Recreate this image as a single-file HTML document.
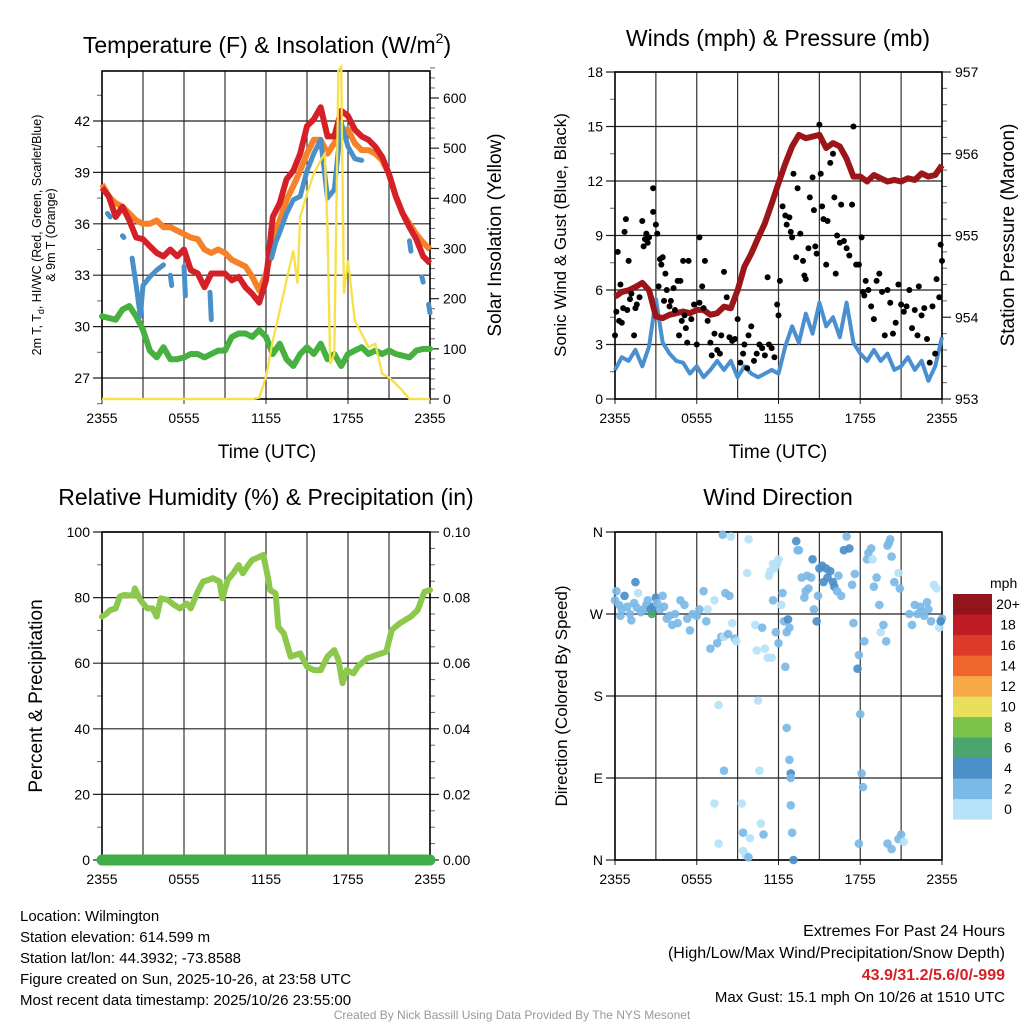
<!DOCTYPE html>
<html><head><meta charset="utf-8"><style>
html,body{margin:0;padding:0;background:#fff;}
svg{display:block;font-family:"Liberation Sans",Arial,sans-serif;}
</style></head><body>
<svg id="chart" xmlns="http://www.w3.org/2000/svg" width="1024" height="1024" viewBox="0 0 1024 1024">
<rect x="0" y="0" width="1024" height="1024" fill="#fff"/>
<text x="267" y="53" font-size="23" text-anchor="middle">Temperature (F) &amp; Insolation (W/m<tspan font-size="14" dy="-10">2</tspan><tspan dy="10">)</tspan></text>
<text x="778" y="46" font-size="23" text-anchor="middle">Winds (mph) &amp; Pressure (mb)</text>
<text x="266" y="505" font-size="23" text-anchor="middle">Relative Humidity (%) &amp; Precipitation (in)</text>
<text x="778" y="505" font-size="23" text-anchor="middle">Wind Direction</text>
<text x="267" y="458" font-size="19" text-anchor="middle">Time (UTC)</text>
<text x="778" y="458" font-size="19" text-anchor="middle">Time (UTC)</text>
<text transform="translate(41,235) rotate(-90)" font-size="12.5" text-anchor="middle">2m T, T<tspan font-size="9" dy="3">d</tspan><tspan dy="-3">, HI/WC (Red, Green, Scarlet/Blue)</tspan></text>
<text transform="translate(55,235) rotate(-90)" font-size="12.5" text-anchor="middle">&amp; 9m T (Orange)</text>
<text transform="translate(501,235) rotate(-90)" font-size="19" text-anchor="middle">Solar Insolation (Yellow)</text>
<text transform="translate(566,235) rotate(-90)" font-size="17" text-anchor="middle">Sonic Wind &amp; Gust (Blue, Black)</text>
<text transform="translate(1014,235) rotate(-90)" font-size="19" text-anchor="middle">Station Pressure (Maroon)</text>
<text transform="translate(42,696) rotate(-90)" font-size="19" text-anchor="middle">Percent &amp; Precipitation</text>
<text transform="translate(567,696) rotate(-90)" font-size="17" text-anchor="middle">Direction (Colored By Speed)</text>
<g font-size="15">
<text x="20" y="921">Location: Wilmington</text>
<text x="20" y="942">Station elevation: 614.599 m</text>
<text x="20" y="963">Station lat/lon: 44.3932; -73.8588</text>
<text x="20" y="984">Figure created on Sun, 2025-10-26, at 23:58 UTC</text>
<text x="20" y="1005">Most recent data timestamp: 2025/10/26 23:55:00</text>
</g>
<g font-size="16" text-anchor="end">
<text x="1005" y="936">Extremes For Past 24 Hours</text>
<text x="1005" y="958">(High/Low/Max Wind/Precipitation/Snow Depth)</text>
<text x="1005" y="980" fill="#d62027" font-weight="bold">43.9/31.2/5.6/0/-999</text>
<text x="1005" y="1002" font-size="15">Max Gust: 15.1 mph On 10/26 at 1510 UTC</text>
</g>
<text x="512" y="1019" font-size="12" fill="#999" text-anchor="middle">Created By Nick Bassill Using Data Provided By The NYS Mesonet</text>
</svg>
<script>
// ---- Temperature panel data (hours since 2355 UTC, half-hour steps) ----
const tHours = [0,0.5,1,1.5,2,2.5,3,3.5,4,4.5,5,5.5,6,6.5,7,7.5,8,8.5,9,9.5,10,10.5,11,11.5,12,12.5,13,13.5,14,14.5,15,15.5,16,16.5,17,17.5,18,18.5,19,19.5,20,20.5,21,21.5,22,22.5,23,23.5,24];
const tempRed = [38.1,37.6,36.4,37.0,36.2,35.2,35.1,34.7,34.3,34.1,34.5,34.1,34.5,33.3,33.1,32.3,33.1,33.1,33.1,32.7,32.9,32.3,31.9,31.4,32.7,36.4,37.2,38.6,39.1,40.1,41.7,42.1,42.8,41.1,41.1,42.6,42.3,41.5,41.1,40.9,40.5,39.9,38.9,37.6,36.6,35.8,35.1,34.1,33.7];
const temp9m = [38.3,37.6,37.2,37.0,36.6,36.2,36.0,36.0,36.2,35.8,35.8,35.6,35.4,35.2,35.1,34.5,34.3,34.5,34.3,33.9,33.7,33.5,32.9,32.1,33.1,34.7,36.2,37.4,38.2,39.1,40.1,40.9,40.9,40.1,40.7,41.5,41.5,40.7,40.3,40.3,40.1,39.7,38.9,37.6,36.6,36.0,35.4,34.9,34.5];
const tempDew = [28.9,30.6,30.5,30.4,31.0,31.2,30.6,29.8,28.6,28.2,28.8,28.1,28.1,28.2,28.4,28.4,28.2,28.4,28.6,28.6,29.4,29.6,29.6,29.4,29.8,29.4,28.4,29.0,28.1,27.7,28.4,28.8,28.4,29.0,28.1,28.4,27.7,28.4,28.6,28.8,28.4,28.6,28.4,28.6,28.4,28.3,28.2,28.6,28.7].slice(1).concat([28.7]);
const hiwcHours = [0.4,0.6,null,1.5,1.6,null,2.2,2.5,2.8,3.0,3.5,4.0,4.5,null,5.0,5.1,null,6.0,6.1,null,7.9,8.0,null,12.4,12.7,13.0,13.5,14.0,14.5,15.0,15.5,16.0,16.5,17.0,17.5,18.0,18.5,19.0,null,22.5,22.6,null,23.4,23.5,null,23.9,24.0];
const hiwcVals  = [36.6,36.4,null,35.3,35.2,null,34.0,32.4,30.6,32.4,32.9,33.3,33.6,null,33.0,32.4,null,33.5,31.8,null,32.0,30.4,null,34.0,34.9,35.5,36.6,37.4,37.6,39.1,40.1,40.9,37.5,38.0,41.9,40.5,39.8,39.7,null,35.0,34.4,null,32.9,32.6,null,31.3,30.8];
const solarHours = [0,11,11.5,12,12.5,13,13.5,14,14.3,14.5,15,15.5,16,16.3,16.5,16.7,17,17.3,17.5,17.7,18,18.5,19,19.5,20,20.5,21,21.5,22,22.5,24];
const solarVals  = [0,0,3,44,116,176,236,296,230,363,409,449,476,489,336,70,90,655,662,210,276,156,130,103,110,50,43,30,16,0,0];
const tempTicks = [27,30,33,36,39,42];
const solarTicks = [0,100,200,300,400,500,600];
const timeLabels = ["2355","0555","1155","1755","2355"];
// ---- Wind panel data ----
const windSpeed = [1.6,2.3,2.1,2.7,1.8,2.9,5.5,3.1,2.5,2.1,2.0,1.4,1.8,1.2,1.6,2.1,1.6,2.1,1.2,1.8,1.4,1.2,1.4,1.6,1.4,2.9,4.0,3.1,4.7,3.6,5.3,4.0,4.5,3.4,5.3,3.1,2.5,2.1,2.7,2.1,2.5,1.6,1.8,2.3,1.6,2.1,1.0,1.8,3.4];
const pressure = [954.25,954.31,954.33,954.37,954.42,954.33,954.01,953.99,954.03,954.05,954.07,954.05,954.09,954.09,954.03,954.05,954.13,954.11,954.33,954.62,954.78,954.97,955.15,955.39,955.64,955.88,956.09,956.23,956.19,956.21,956.23,956.07,956.13,956.09,955.94,955.72,955.72,955.66,955.74,955.70,955.66,955.68,955.66,955.70,955.68,955.76,955.72,955.74,955.86];
const gustHours = [0,0.1,0.2,0.3,0.4,0.5,0.6,0.7,0.8,0.9,1.0,1.1,1.2,1.4,1.5,1.6,1.8,2.0,2.1,2.2,2.3,2.4,2.5,2.8,2.8,3.0,3.1,3.2,3.3,3.4,3.5,3.6,3.7,3.8,4.0,4.1,4.3,4.4,4.6,4.7,4.8,4.9,5.0,5.1,5.2,5.3,5.4,5.6,5.8,6.0,6.2,6.2,6.4,6.5,6.6,6.8,7.0,7.1,7.3,7.5,7.7,7.8,8.0,8.2,8.4,8.6,8.8,9.0,9.2,9.4,9.5,9.7,9.8,10.0,10.2,10.4,10.6,10.8,11.0,11.2,11.3,11.5,11.7,11.9,12.0,12.1,12.3,12.5,12.6,12.8,12.9,13.0,13.1,13.3,13.4,13.6,13.8,13.9,14.0,14.2,14.3,14.5,14.6,14.7,14.8,15.0,15.1,15.2,15.3,15.5,15.6,15.8,16.0,16.1,16.2,16.3,16.5,16.6,16.8,17.0,17.2,17.4,17.5,17.7,17.9,18.1,18.2,18.3,18.4,18.6,18.8,19.0,19.2,19.4,19.6,19.8,20.0,20.2,20.4,20.6,20.8,21.0,21.2,21.4,21.6,21.8,22.0,22.2,22.3,22.5,22.7,22.9,23.1,23.3,23.5,23.6,23.8,23.9,24.0];
const gustVals  = [3.5,4.8,8.1,4.3,6.3,4.2,5.0,9.2,9.9,4.9,7.6,5.5,5.8,3.5,5.0,5.2,5.6,9.8,8.4,8.8,9.1,8.6,8.9,11.6,10.3,9.6,9.1,6.2,7.7,7.4,7.8,5.4,6.9,6.0,5.1,5.4,6.1,4.9,6.5,3.5,6.5,4.3,7.6,4.6,3.9,3.1,7.6,4.4,5.2,3.0,5.3,8.9,6.2,5.0,7.6,4.3,3.1,2.4,3.6,2.7,2.5,3.5,7.0,5.6,3.4,3.2,3.3,4.4,2.0,2.5,3.0,1.7,3.5,4.0,2.1,2.5,3.0,2.8,2.4,6.7,3.0,2.8,2.3,5.2,4.6,6.5,10.6,10.1,9.6,10.0,9.2,8.9,12.4,7.8,11.6,9.1,7.6,6.8,6.6,8.3,11.1,12.2,10.4,8.4,8.0,15.1,12.4,10.6,9.9,7.4,9.8,13.0,13.5,11.1,6.9,9.0,8.6,10.7,8.7,8.3,7.9,10.7,15.0,7.4,7.4,8.9,5.9,5.7,6.5,6.0,5.1,4.4,6.5,6.9,5.9,3.5,6.0,5.3,3.6,4.2,6.3,5.2,4.8,5.1,6.0,3.9,4.9,3.5,6.2,4.6,5.0,3.3,2.0,5.1,2.5,6.6,5.6,8.5,7.6];
const windTicks = [0,3,6,9,12,15,18];
const pressTicks = [953,954,955,956,957];
// ---- Humidity panel data ----
const rhHours = [0,0.3,0.6,1.0,1.3,1.6,2.3,2.4,2.8,3.3,3.7,4.0,4.3,4.8,5.3,5.7,6.2,6.5,7.0,7.4,7.8,8.1,8.6,8.8,9.2,9.6,10.0,10.3,10.7,11.0,11.3,11.8,12.15,12.3,12.7,12.9,13.3,13.8,14.5,15.0,15.5,16.0,16.5,17.0,17.3,17.6,17.9,18.4,18.7,19.4,20.1,20.8,21.2,21.8,22.6,23.1,23.6,24];
const rhVals  = [74.2,75.0,76.2,76.7,80.3,80.8,80.6,82.8,79.3,76.7,76.7,74.2,79.8,79.3,77.7,76.7,78.2,76.7,81.8,84.9,85.4,85.9,84.9,79.8,85.4,87.4,89.9,87.4,89.9,91.5,92.0,93.0,85.9,82.3,81.3,71.1,69.1,62.0,63.0,58.9,57.9,57.9,62.0,64.0,61.0,53.9,57.9,56.9,58.9,61.5,62.5,63.5,70.1,72.2,74.2,76.2,81.8,82.3];
const precipHours = [0,24];
const precipVals = [0,0];
const rhTicks = [0,20,40,60,80,100];
const precipTicks = ["0.00","0.02","0.04","0.06","0.08","0.10"];
// ---- Wind direction panel data ----
const dirHours = [0,0.1,0.3,0.4,0.5,0.7,0.9,1.1,1.2,1.4,1.6,1.5,1.7,1.9,2.1,2.3,2.4,2.6,2.7,2.8,3.0,3.1,3.3,3.5,3.6,3.8,4.0,4.2,4.4,4.6,4.8,5.1,5.3,5.5,5.7,6.0,6.2,6.5,6.7,6.8,7.0,7.3,7.5,7.8,7.9,8.0,8.1,8.3,8.4,8.5,8.6,8.8,8.9,7.6,8.0,7.3,7.6,9.3,9.4,9.4,9.6,9.8,9.9,9.7,9.8,10.3,10.5,10.6,10.7,10.9,10.4,10.8,11.0,11.2,11.5,11.6,11.4,11.7,11.9,12.0,11.3,11.6,11.8,12.0,12.2,12.3,12.4,12.6,12.5,12.7,12.8,12.6,12.8,12.9,12.9,12.9,13.0,13.1,13.3,13.4,13.5,13.7,13.9,14.0,14.1,14.2,14.4,14.5,14.6,14.8,14.9,15.0,15.2,15.3,15.5,15.6,15.8,16.0,16.1,16.3,16.4,16.6,16.8,17.0,17.2,17.4,17.5,17.6,17.8,17.9,18.0,18.1,18.2,17.9,18.3,18.5,18.6,18.8,18.9,19.0,19.2,19.4,19.5,19.7,19.9,20.0,20.1,20.2,20.3,20.5,20.8,20.9,20.0,20.3,20.8,21.0,21.2,21.6,21.8,22.0,22.2,22.5,22.7,23.0,23.2,23.4,23.6,23.8,24.0,23.9,22.4,22.9];
const dirVals  = [285,295,280,268,275,290,278,270,263,282,277,305,293,272,275,280,285,275,270,278,288,282,275,290,278,265,268,258,270,260,285,280,265,252,270,268,275,295,262,275,232,285,238,245,357,245,293,248,290,355,260,243,240,170,98,62,18,62,10,30,5,3,24,315,352,258,175,98,40,28,230,255,232,222,222,325,317,320,325,330,312,285,250,238,280,293,262,250,212,264,255,145,110,95,60,90,30,0,350,340,340,310,288,295,312,298,310,330,275,262,290,320,323,305,320,310,317,305,300,295,312,290,340,355,342,302,260,314,210,225,160,95,80,18,240,330,337,342,330,300,310,280,250,258,240,345,348,352,333,305,315,298,18,12,23,28,20,270,258,280,270,272,268,275,262,302,298,255,265,262,278,283];
const dirSpeeds = [2.5,3,3.5,3,2.5,4.5,3,3,3,2.5,3,4.5,1.5,3.5,3,3,2.5,4.5,6,4,4.5,3,3,3,3.5,3,3,3,3,3,3,3,3,3,3,3.5,3,3,3,1.5,3,1.5,3,3,3,1.5,3,3,3,1.5,1.5,3,1.5,1.5,3,1.5,1.5,1.5,1.5,3,1.5,3,1.5,1.5,1.5,1.5,1.5,1.5,1.5,3,1.5,3,1.5,1.5,1.5,1.5,1.5,1.5,1.5,1.5,1.5,3,3,3,1.5,3,3,3,3,4,3,3,3,4.5,3,3,3,4.5,4.5,3,3,3,3,3,3,3,3,4,3,4.5,3,4.5,4.5,4.5,4.5,4.5,4.5,4.5,4.5,3,3,3,4.5,3,5,3,3,3,4.5,3,3,3,3,3,3,3,3,3,1.5,3,3,3,1.5,3,3,3,3,3,3,3,1.5,3,3,3,3,3,1.5,3,3,3,3,3,3,3,3,1.5,1.5,1.5,3,4.5,3,3];
const dirTicks = [0,90,180,270,360];
const dirLabels = ["N","E","S","W","N"];
const speedBins = ["0","2","4","6","8","10","12","14","16","18","20+"];
const speedColors = ["#b6e2f8","#7bb9e6","#4a8fc8","#4aa66e","#7bc24a","#e8e05a","#f7a847","#f0652b","#de3a2b","#c01c24","#94141b"];

const NS = "http://www.w3.org/2000/svg";
const svg = document.getElementById("chart");
function el(tag, attrs, parent){ const e=document.createElementNS(NS,tag); for(const k in attrs) e.setAttribute(k,attrs[k]); parent.appendChild(e); return e; }

function panel(name, x0,x1,y0,y1){
  const g = el('g',{},svg);
  
  
  return {g,x0,x1,y0,y1,xf:h=>x0+h*(x1-x0)/24};
}
function lin(d0,d1,p0,p1){ return v=>p0+(v-d0)*(p1-p0)/(d1-d0); }

function frame(P, leftTicks, leftY, leftLabels, rightTicks, rightY, rightLabels, leftMinor, rightMinor){
  const g = el('g',{},P.g);
  
  
  for(let h=3; h<24; h+=3){
    const ln = el('line',{x1:P.xf(h),x2:P.xf(h),y1:P.y0,y2:P.y1,stroke:'#333','stroke-width':1.2},g);
    
    
  }
  leftTicks.forEach((v,i)=>{
    const y=leftY(v);
    const ln = el('line',{x1:P.x0-9,x2:P.x1,y1:y,y2:y,stroke:'#222','stroke-width':1.2},g);
    
    
    const t = el('text',{x:P.x0-12,y:y+5,'font-size':14,'text-anchor':'end'},g);
    t.textContent = leftLabels[i];
    
    
  });
  leftMinor.forEach(v=>{
    const y=leftY(v);
    const ln = el('line',{x1:P.x0-5,x2:P.x0,y1:y,y2:y,stroke:'#666','stroke-width':1},g);
    
    
  });
  rightTicks.forEach((v,i)=>{
    const y=rightY(v);
    const ln = el('line',{x1:P.x1,x2:P.x1+9,y1:y,y2:y,stroke:'#222','stroke-width':1.2},g);
    
    
    if(rightLabels){
      const t = el('text',{x:P.x1+13,y:y+5,'font-size':14},g);
      t.textContent = rightLabels[i];
      
      
    }
  });
  rightMinor.forEach(v=>{
    const y=rightY(v);
    const ln = el('line',{x1:P.x1,x2:P.x1+5,y1:y,y2:y,stroke:'#666','stroke-width':1},g);
    
    
  });
  timeLabels.forEach((s,i)=>{
    const x=P.xf(i*6);
    const tk = el('line',{x1:x,x2:x,y1:P.y1,y2:P.y1+5,stroke:'#222'},g);
    
    
    const t = el('text',{x:x,y:P.y1+24,'font-size':14,'text-anchor':'middle'},g);
    t.textContent = s;
    
    
  });
  const box = el('rect',{x:P.x0,y:P.y0,width:P.x1-P.x0,height:P.y1-P.y0,fill:'none',stroke:'#000','stroke-width':1.6},g);
  
  
}
function pathD(xs, ys, xf, yf){
  let d='', pen=false;
  for(let i=0;i<xs.length;i++){
    if(xs[i]===null||ys[i]===null){pen=false;continue;}
    d += (pen?'L':'M')+xf(xs[i]).toFixed(1)+','+yf(ys[i]).toFixed(1);
    pen=true;
  }
  return d;
}
function range(a,b,s){const r=[];for(let v=a;v<=b+1e-9;v+=s)r.push(+v.toFixed(4));return r;}

// Panel 1
const P1 = panel('temperature-panel',102,430,71,399);
const yT = lin(27,42,378,121), yS = lin(0,600,399,98);
frame(P1, tempTicks, yT, tempTicks.map(String), solarTicks, yS, solarTicks.map(String), range(25.5,43.5,1.5).filter(v=>!tempTicks.includes(v)&&yT(v)>=P1.y0), range(0,660,20).filter(v=>v%100!==0));
const sG = el('path',{d:pathD(solarHours,solarVals,P1.xf,yS),fill:'none',stroke:'#f7e14b','stroke-width':2.2},P1.g);


const dG = el('path',{d:pathD(tHours,tempDew,P1.xf,yT),fill:'none',stroke:'#46b040','stroke-width':6,'stroke-linejoin':'round','stroke-linecap':'round'},P1.g);


const oG = el('path',{d:pathD(tHours,temp9m,P1.xf,yT),fill:'none',stroke:'#f5822a','stroke-width':6,'stroke-linejoin':'round'},P1.g);


const rG = el('path',{d:pathD(tHours,tempRed,P1.xf,yT),fill:'none',stroke:'#d62027','stroke-width':6,'stroke-linejoin':'round'},P1.g);


const bG = el('path',{d:pathD(hiwcHours,hiwcVals,P1.xf,yT),fill:'none',stroke:'#4a90c8','stroke-width':5,'stroke-linecap':'round','stroke-linejoin':'round'},P1.g);


// redraw solar above for visibility of spike
const sG2 = el('path',{d:pathD(solarHours,solarVals,P1.xf,yS),fill:'none',stroke:'#f7e14b','stroke-width':2.2},P1.g);



// Panel 2
const P2 = panel('winds-panel',615,942,72,399);
const yW = lin(0,18,399,72), yP = lin(953,957,399,72);
frame(P2, windTicks, yW, windTicks.map(String), pressTicks, yP, pressTicks.map(String), range(1.5,16.5,3), range(953.2,956.8,0.2).filter(v=>Math.abs(v-Math.round(v))>0.01));
const wG = el('path',{d:pathD(tHours,windSpeed,P2.xf,yW),fill:'none',stroke:'#4a90d0','stroke-width':4,'stroke-linejoin':'round'},P2.g);


const pG = el('path',{d:pathD(tHours,pressure,P2.xf,yP),fill:'none',stroke:'#9b1519','stroke-width':6,'stroke-linejoin':'round'},P2.g);


gustHours.forEach((h,i)=>{
  const c = el('circle',{cx:P2.xf(h),cy:yW(gustVals[i]),r:3,fill:'#000'},P2.g);
  
  
});

// Panel 3
const P3 = panel('humidity-panel',102,430,532,860);
const yR = lin(0,100,860,532), yPr = lin(0,0.1,860,532);
frame(P3, rhTicks, yR, rhTicks.map(String), [0,0.02,0.04,0.06,0.08,0.10], yPr, precipTicks, range(10,90,20), range(0.005,0.095,0.005).filter(v=>Math.abs(v*50-Math.round(v*50))>0.01));
const hG = el('path',{d:pathD(rhHours,rhVals,P3.xf,yR),fill:'none',stroke:'#8cc84b','stroke-width':6,'stroke-linejoin':'round','stroke-linecap':'round'},P3.g);


const prG = el('path',{d:pathD(precipHours,precipVals,P3.xf,yPr),fill:'none',stroke:'#3fae49','stroke-width':11,'stroke-linecap':'round'},P3.g);



// Panel 4
const P4 = panel('wind-direction-panel',615,942,532,860);
const yD = lin(0,360,860,532);
frame(P4, dirTicks, yD, dirLabels, [], yD, null, [], []);
function spdColor(s){ let i=Math.floor(s/2); if(i>10)i=10; return speedColors[i]; }
dirHours.forEach((h,i)=>{
  const c = el('circle',{cx:P4.xf(h),cy:yD(dirVals[i]),r:4.3,fill:spdColor(dirSpeeds[i]),'fill-opacity':0.92},P4.g);
  
  
});
// Colorbar
const cb = el('g',{},svg);


const cbT = el('text',{x:990,y:588,'font-size':14},cb);
cbT.textContent='mph';


speedBins.forEach((s,i)=>{
  const k = speedBins.length-1-i;
  const y = 594 + k*20.5;
  const r = el('rect',{x:953,y:y,width:39,height:20.6,fill:speedColors[i]},cb);
  
  
  const t = el('text',{x:1008,y:y+15,'font-size':14,'text-anchor':'middle'},cb);
  t.textContent = s;
  
  
});
</script>
</body></html>
